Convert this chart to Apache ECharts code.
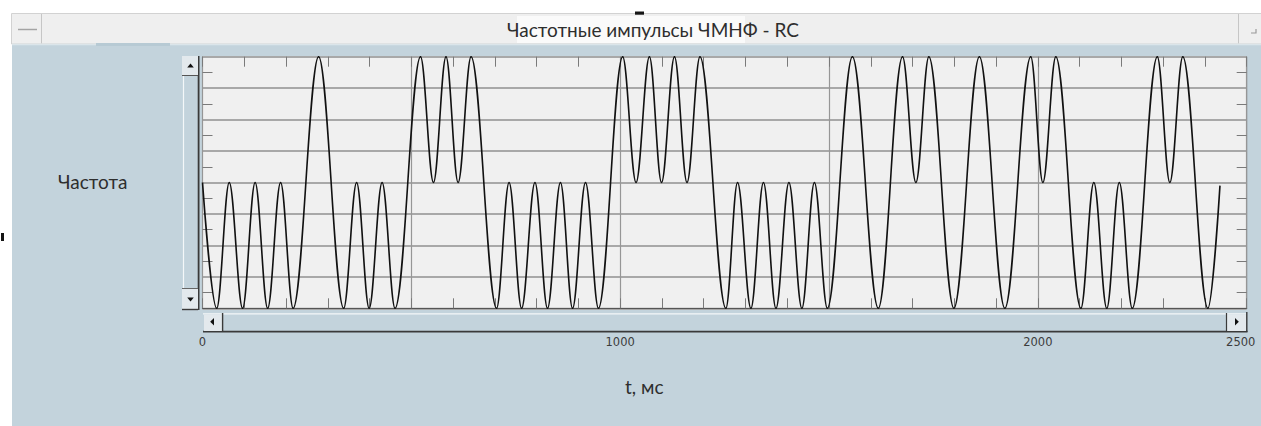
<!DOCTYPE html>
<html>
<head>
<meta charset="utf-8">
<script src="https://cdn.jsdelivr.net/npm/echarts@6/dist/echarts.min.js"></script>
<style>
html,body{margin:0;padding:0;background:#fff;}
#c{width:1261px;height:426px;}
</style>
</head>
<body>
<div id="c"></div>
<script>
// ---- data ----
const chartTitle = 'Частотные импульсы ЧМНФ - RC';
const yName = 'Частота';
const xName = 't, мс';
// time of each turning point (ms)
const tValues = [0,34,64,96,126,156,187,217,278,338,369,399,430,461,522,553,583,612,643,704,734,764,796,826,857,886,917,948,1006,1038,1070,1099,1130,1160,1191,1253,1281,1313,1343,1373,1404,1435,1465,1496,1556,1618,1676,1708,1739,1799,1860,1921,1983,2012,2043,2103,2134,2165,2195,2226,2286,2316,2347,2407,2436];
// level at each turning point (0 = bottom, 4 = middle, 8 = top)
const yValues = [4,0,4,0,4,0,4,0,8,0,4,0,4,0,8,4,8,4,8,0,4,0,4,0,4,0,4,0,8,4,8,4,8,4,8,0,4,0,4,0,4,0,4,0,8,0,8,4,8,0,8,0,8,4,8,0,4,0,4,0,8,4,8,0,3.9];
const xTickLabels = [0,1000,2000,2500];

const panel = '#c3d3dc';
const btn = '#e3e9ed';
const dark = '#3a3a3a';

const chart = echarts.init(document.getElementById('c'), null, {renderer:'svg', width:1261, height:426});

const G = [];
function rect(x,y,w,h,fill,stroke,lw){G.push({type:'rect',silent:true,shape:{x,y,width:w,height:h},style:{fill:fill||'none',stroke:stroke||null,lineWidth:lw||0}});}
function line(x1,y1,x2,y2,stroke,lw){G.push({type:'line',silent:true,shape:{x1,y1,x2,y2},style:{stroke,lineWidth:lw||1}});}
function tri(pts,fill){G.push({type:'polygon',silent:true,shape:{points:pts},style:{fill}});}

// white margins
rect(0,0,1261,13,'#ffffff');
rect(0,0,12,426,'#ffffff');
// title bar
rect(11.5,13.5,1250,30.5,'#efefef','#d2d2d2',1);
rect(517,16,228,27,'#fafafa');
line(41.5,14,41.5,43.5,'#c6c6c6',1);
line(18,29.5,37,29.5,'#a4a4a4',1.5);
line(1238.5,14,1238.5,43.5,'#c6c6c6',1);
G.push({type:'polyline',silent:true,shape:{points:[[1256,29],[1256,33],[1251,33]]},style:{stroke:'#9a9a9a',lineWidth:1.2,fill:null}});
line(12,44.5,1261,44.5,'#dbe5ea',1.5);
rect(96,43,74,3,'#b7cad4');
// black marks
rect(635,11.5,9,3.2,'#151515');
rect(1,233,3,8,'#151515');

// vertical scrollbar
rect(182,56,16,254,panel);
line(183.5,75,183.5,289,'#f4f7f9',1.2);
line(198.6,56,198.6,310,dark,1.8);
rect(182,56,16,19,btn);
line(182,75.5,198,75.5,'#555',1);
tri([[187.2,67.5],[193.8,67.5],[190.5,63.5]],'#111');
rect(182,289,16,20,btn);
line(182,288.5,198,288.5,'#666',1);
line(182,309.5,198,309.5,dark,1.4);
tri([[187.2,297.5],[193.8,297.5],[190.5,301.5]],'#111');

// horizontal scrollbar
rect(203,312,1044,19,panel);
line(203,313.8,1246,313.8,'#f4f7f9',1.2);
line(203,331.6,1247.5,331.6,dark,1.8);
rect(204,314.5,18,16.5,btn);
line(222.6,313,222.6,331,dark,1.4);
tri([[210.2,321.7],[214,318],[214,325.4]],'#111');
rect(1227,314.5,19,16.5,btn);
line(1226.5,313,1226.5,331,dark,1.2);
line(1246.8,312,1246.8,332,dark,1.4);
tri([[1235,318],[1235,325.4],[1238.8,321.7]],'#111');

const tickStyle = {color:'#7a7a7a', width:1};

const option = {
  animation:false,
  backgroundColor: panel,
  title: [
    {text: chartTitle, left: 507, top: 20, padding:0, textStyle:{fontFamily:'Lato', fontSize:19, fontWeight:'normal', color:'#2e2e2e'}},
    {text: yName, left: 58, top: 172, padding:0, textStyle:{fontFamily:'Lato', fontSize:19, fontWeight:'normal', color:'#2e2e2e'}},
    {text: xName, left: 625, top: 377, padding:0, textStyle:{fontFamily:'Lato', fontSize:19, fontWeight:'normal', color:'#2e2e2e'}}
  ],
  grid: {left:202.5, right:14.3, top:56.7, bottom:117.7, show:true, backgroundColor:'#f0f0f0', borderColor:'#7e7e7e', borderWidth:1, containLabel:false, outerBoundsMode:'none'},
  xAxis: [
    {type:'value', position:'bottom', min:0, max:2500, interval:500,
     axisLine:{show:true, onZero:false, lineStyle:{color:'#555', width:1.2}},
     axisTick:{show:true, inside:true, length:10, lineStyle:tickStyle},
     minorTick:{show:true, splitNumber:5, length:10, lineStyle:tickStyle},
     splitLine:{show:true, lineStyle:{color:'#969696', width:1.2}},
     axisLabel:{show:true, margin:28, fontFamily:'DejaVu Sans', fontSize:11.5, color:'#3c3c3c',
       formatter: v => xTickLabels.indexOf(v) >= 0 ? (v === 2500 ? '{r|' + v + '}' : String(v)) : '',
       rich:{r:{fontFamily:'DejaVu Sans', fontSize:11.5, color:'#3c3c3c', padding:[0,12,0,0]}}}},
    {type:'value', position:'top', min:0, max:2500, interval:500,
     axisLine:{show:false, onZero:false},
     axisTick:{show:true, inside:true, length:10, lineStyle:tickStyle},
     minorTick:{show:true, splitNumber:5, length:10, lineStyle:tickStyle},
     splitLine:{show:false}, axisLabel:{show:false}}
  ],
  yAxis: [
    {type:'value', position:'left', min:0, max:8, interval:1,
     axisLine:{show:false, onZero:false},
     axisTick:{show:false, inside:true, length:10},
     minorTick:{show:true, splitNumber:2, length:10, lineStyle:tickStyle},
     splitLine:{show:true, lineStyle:{color:'#a8a8a8', width:1.8}},
     axisLabel:{show:false}},
    {type:'value', position:'right', min:0, max:8, interval:1,
     axisLine:{show:false, onZero:false},
     axisTick:{show:false, inside:true, length:10},
     minorTick:{show:true, splitNumber:2, length:10, lineStyle:tickStyle},
     splitLine:{show:false}, axisLabel:{show:false}}
  ],
  series: [{
    type:'line', xAxisIndex:0, yAxisIndex:0,
    data: tValues.map((t,i)=>[t, yValues[i]]),
    showSymbol:false, smooth:0.36, smoothMonotone:'x',
    lineStyle:{color:'#111', width:1.6}, z:5
  }],
  graphic: G
};
chart.setOption(option);
</script>
</body>
</html>
